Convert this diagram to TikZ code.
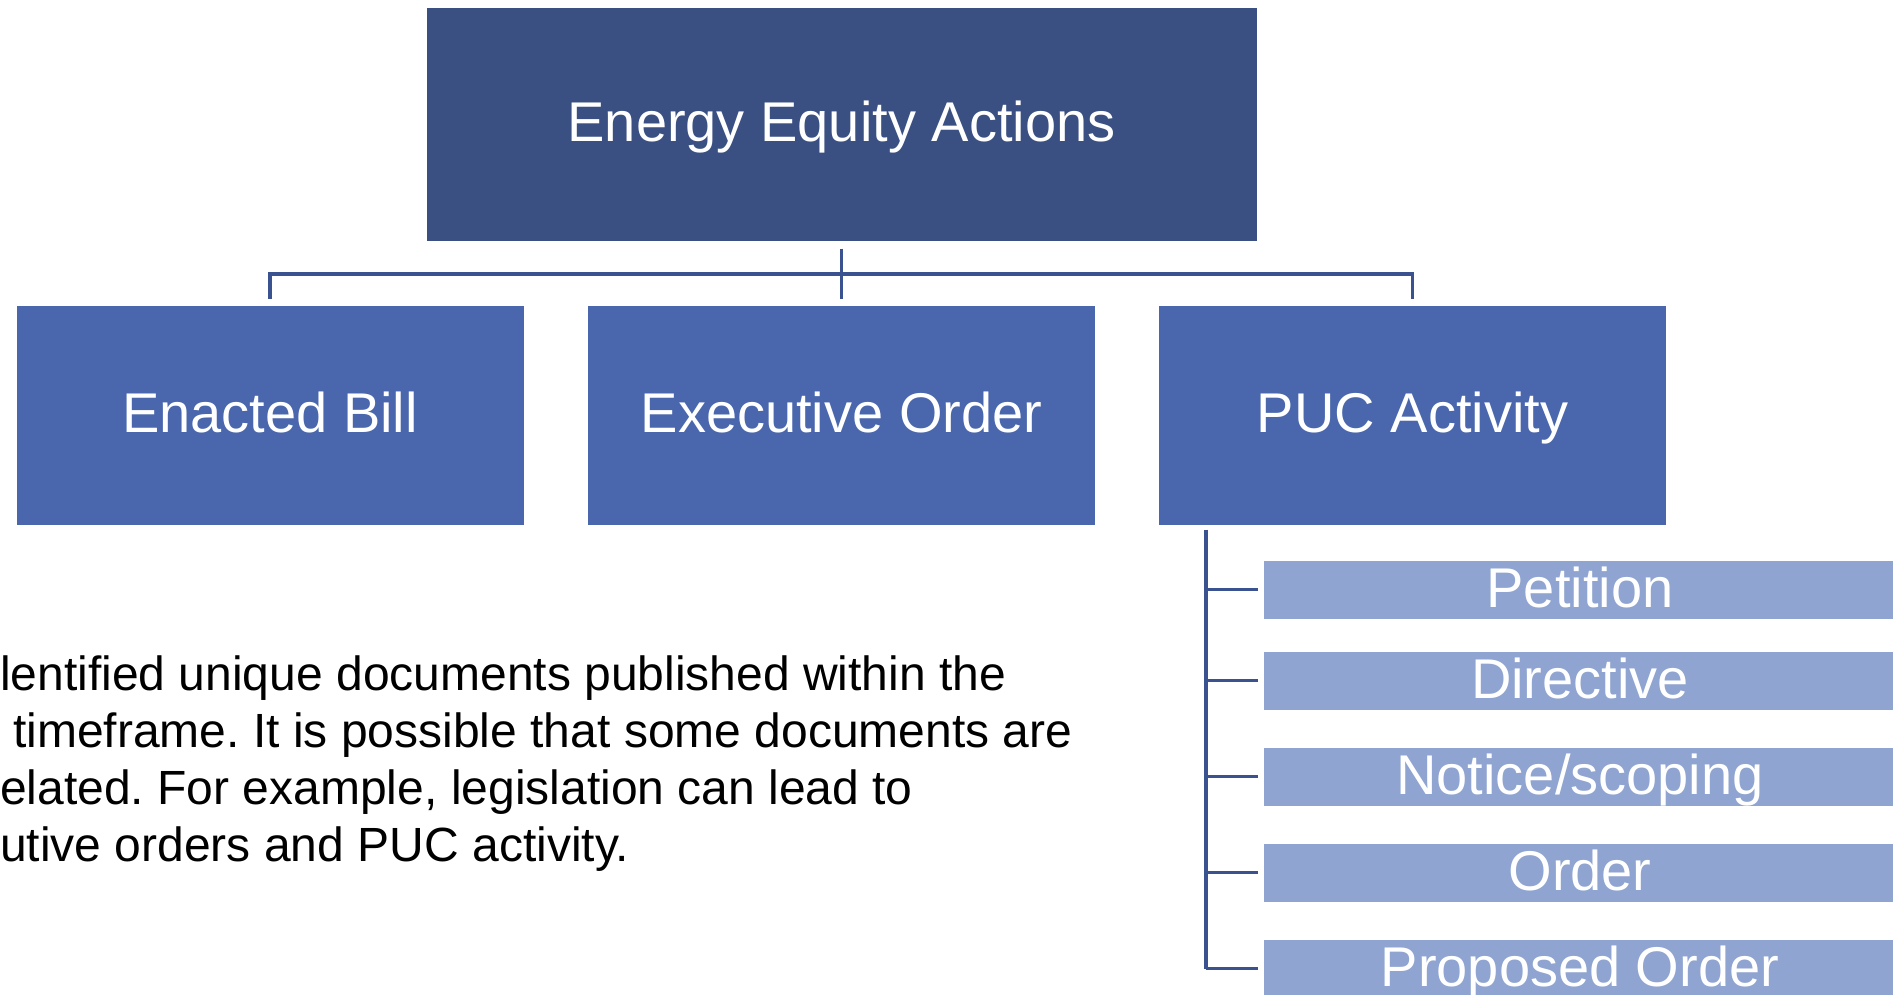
\documentclass[tikz,border=0pt]{standalone}
\usepackage{fontspec}
\setmainfont{Liberation Sans}
\frenchspacing
\usetikzlibrary{positioning,calc}
\definecolor{chiefblue}{HTML}{3A5082}
\definecolor{unitblue}{HTML}{4A67AD}
\definecolor{itemblue}{HTML}{8FA4D0}
\definecolor{linkblue}{HTML}{3B5290}
\tikzset{
  chief/.style = {fill=chiefblue, draw=white, line width=1pt, text=white,
    inner sep=0pt, minimum width=831pt, minimum height=234pt,
    text height=43pt, text depth=8pt,
    font=\fontsize{56}{67}\selectfont},
  unit/.style = {chief, fill=unitblue, minimum width=508pt, minimum height=220pt},
  item/.style = {chief, fill=itemblue, minimum width=634pt, minimum height=59pt},
  note/.style = {inner sep=0pt, align=left, font=\fontsize{48}{57}\selectfont},
  link/.style = {draw=linkblue, line width=3.5pt}
}

\begin{document}
\begin{tikzpicture}[x=1pt,y=-1pt]
  \clip (0,0) rectangle (1893,994);
  % top of the chart
  \node[chief] (top) at (841.5,124) {Energy Equity Actions};
  % second row
  \node[unit] (bill) at (270,415) {Enacted Bill};
  \node[unit] (exec) at (841.5,415) {Executive Order};
  \node[unit] (puc) at (1412.5,415) {PUC Activity};
  % PUC sub items
  \node[item] (pet) at (1580,589.5) {Petition};
  \node[item] (dir) at (1580,680.5) {Directive};
  \node[item] (notice) at (1580,776.5) {Notice/scoping};
  \node[item] (ord) at (1580,872.5) {Order};
  \node[item] (prop) at (1580,968.5) {Proposed Order};
  % connectors
  \coordinate (bus) at (841.5,274);
  \draw[link,shorten <=7pt,shorten >=6pt] (top.south) -- (exec.north);
  \draw[link,shorten <=6pt,shorten >=6pt] (bill.north) |- (bus) -| (puc.north);
  \coordinate (spine) at ($(puc.south west)+(48,4)$);
  \draw[link] (spine) -- (spine |- prop.west);
  \draw[link,shorten >=5pt] (spine |- pet.west) -- (pet.west);
  \draw[link,shorten >=5pt] (spine |- dir.west) -- (dir.west);
  \draw[link,shorten >=5pt] (spine |- notice.west) -- (notice.west);
  \draw[link,shorten >=5pt] (spine |- ord.west) -- (ord.west);
  \draw[link,shorten >=5pt] (spine |- prop.west) -- (prop.west);
  % side note
  \node[note, anchor=north west] (text) at (0,656) {lentified unique documents published within the\\
    \hspace*{13pt}timeframe. It is possible that some documents are\\
    elated. For example, legislation can lead to\\
    utive orders and PUC activity.};
\end{tikzpicture}
\end{document}
